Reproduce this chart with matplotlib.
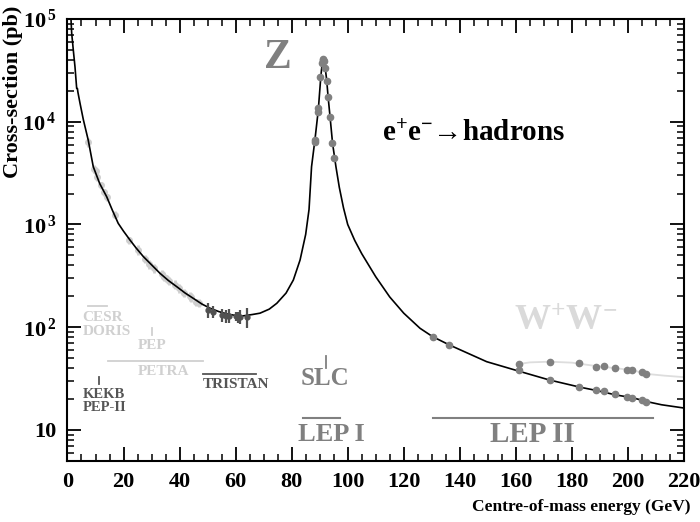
import numpy as np
import matplotlib
matplotlib.use('Agg')
import matplotlib.pyplot as plt
from matplotlib.ticker import MultipleLocator, LogLocator, FixedLocator, NullFormatter

plt.rcParams['font.family'] = ['Liberation Serif', 'DejaVu Serif']
plt.rcParams['font.weight'] = 'bold'
plt.rcParams['mathtext.fontset'] = 'custom'
plt.rcParams['mathtext.rm'] = 'Liberation Serif:bold'
plt.rcParams['mathtext.it'] = 'Liberation Serif:italic:bold'
plt.rcParams['mathtext.bf'] = 'Liberation Serif:bold'

# theory curve e+e- -> hadrons
curve_x = [1.0, 1.25, 1.5, 2.07, 2.68, 3.28, 3.55, 3.7, 4.5, 5.65, 7.4, 9.2, 11.5, 14.0, 16.0,
           18.1, 20.0, 22.3, 24.5, 27.1, 30.0, 33.0, 36.0, 39.0, 42.0, 44.9, 48.0, 50.9, 54.0,
           56.8, 60.0, 62.7, 66.0, 68.7, 72.0, 74.7, 78.0, 80.6, 83.0, 85.0, 86.2, 87.1, 88.3,
           89.5, 90.4, 90.9, 91.2, 91.5, 92.0, 92.5, 93.0, 93.7, 94.6, 95.8, 97.0, 98.5, 100.0,
           102.5, 105.0, 110.0, 115.0, 120.0, 125.8, 130.3, 136.3, 149.6, 160.9, 171.9, 182.9,
           188.9, 195.8, 201.7, 206.7, 212.0, 220.4]
curve_y = [150000, 100000, 72800, 50000, 34200, 21100, 21000, 19500, 15000, 10500, 6630, 3650, 2500,
           1860, 1380, 1026, 860, 706, 590, 486, 405, 335, 285, 248, 215, 191, 168, 153, 142,
           135, 130, 129, 133, 137, 150, 171, 215, 288, 451, 800, 1400, 3650, 6640, 12970,
           27400, 37000, 41500, 39500, 33000, 25400, 17500, 11170, 6150, 3650, 2300, 1450, 1000,
           700, 520, 310, 197, 137, 97.7, 81, 67.2, 46.2, 37.5, 30.7, 26.1, 24.2, 21.9, 20.6,
           18.9, 17.6, 16.3]

# W+W- curve
ww_x = [161.2, 165.0, 172.2, 180.0, 188.9, 195.8, 201.7, 206.9, 213.0, 220.4]
ww_y = [43.9, 45.5, 46.2, 45.2, 41.8, 39.9, 38.1, 35.1, 33.8, 32.6]

# low energy data (CESR, DORIS, PEP, PETRA)
low_x = [7.4, 9.4, 10.0, 10.5, 12.0, 13.0, 14.0, 17.0, 22.0, 25.0, 27.6, 29.0, 30.8, 33.8,
         34.5, 35.0, 36.4, 38.3, 39.8, 41.5, 43.6, 44.2, 46.0, 46.8]
low_y = [6300, 3500, 3300, 2900, 2400, 2050, 1850, 1250, 700, 570, 460, 410, 375, 330,
         310, 300, 280, 260, 240, 215, 200, 195, 175, 172]
low_e = [600, 300, 250, 250, 200, 150, 150, 100, 60, 60, 40, 40, 35, 30,
         30, 25, 25, 25, 25, 20, 20, 20, 15, 15]

# TRISTAN data
tri_x = [50.0, 52.0, 55.0, 56.5, 57.5, 60.0, 60.8, 61.4, 64.0]
tri_y = [148, 142, 132, 128, 130, 128, 125, 127, 127]
tri_e = [25, 20, 20, 18, 20, 12, 15, 20, 28]

# LEP I / SLC data at the Z
z_x = [88.2, 88.4, 89.4, 89.5, 90.2, 91.0, 91.2, 91.3, 91.5, 92.0, 92.5, 92.8, 93.7, 94.3, 95.0]
z_y = [6600, 6400, 12500, 13500, 27000, 37000, 41000, 40000, 39000, 33000, 25000, 17500, 11000, 6200, 4400]

# LEP II data
lep2_x = [130.3, 136.3, 161.3, 172.1, 182.7, 188.6, 191.6, 195.5, 199.5, 201.6, 204.9, 206.6]
lep2_y = [81, 67.2, 38, 30.7, 26.1, 24.4, 23.8, 22.2, 21.0, 20.7, 19.6, 18.9]
ww_dx = [161.3, 172.1, 182.7, 188.6, 191.6, 195.5, 199.5, 201.6, 204.9, 206.6]
ww_dy = [43.5, 46.2, 44.8, 41.3, 41.6, 40.0, 38.5, 38.3, 36.5, 35.1]

fig = plt.figure(figsize=(7, 5.22), dpi=100)
ax = fig.add_axes([0.0964, 0.117, 0.8807, 0.8467])

ax.plot(ww_x, ww_y, color='#dddddd', lw=1.3, zorder=2)
ax.plot(curve_x, curve_y, color='black', lw=1.2, zorder=3)

ax.errorbar(low_x, low_y, yerr=low_e, fmt='o', ms=4, color='#cfcfcf', elinewidth=2, capsize=0, zorder=2)
ax.errorbar(tri_x, tri_y, yerr=tri_e, fmt='o', ms=3.5, color='#505050', elinewidth=1.6, capsize=0, zorder=4)
ax.plot(z_x, z_y, 'o', ms=4.5, color='#808080', zorder=4)
ax.plot(lep2_x, lep2_y, 'o', ms=4.5, color='#808080', zorder=4)
ax.plot(ww_dx, ww_dy, 'o', ms=4.5, color='#808080', zorder=4)

ax.set_yscale('log')
ax.set_xlim(0, 220)
ax.set_ylim(5, 1e5)

ax.xaxis.set_major_locator(MultipleLocator(20))
ax.xaxis.set_minor_locator(MultipleLocator(5))
ax.yaxis.set_major_locator(FixedLocator([10, 100, 1000, 1e4, 1e5]))
ax.yaxis.set_minor_locator(LogLocator(base=10, subs=np.arange(2, 10)))
ax.yaxis.set_minor_formatter(NullFormatter())
ax.set_yticklabels(['10', '10$^{\\,2}$', '10$^{\\,3}$', '10$^{\\,4}$', '10$^{\\,5}$'])
ax.tick_params(which='major', direction='in', length=10, width=1.3, top=True, right=True,
               labelsize=16, pad=8)
ax.tick_params(which='minor', direction='in', length=5, width=1.1, top=True, right=True)
for s in ax.spines.values():
    s.set_linewidth(1.5)

fig.text(690 / 700, 1 - 507 / 522, 'Centre-of-mass energy (GeV)', ha='right', va='center', fontsize=12.5)
fig.text(13 / 700, 1 - 6 / 522, 'Cross-section (pb)', rotation=90, ha='center', va='top', fontsize=16)

# accelerator labels
light = '#d0d0d0'
dark = '#555555'
mid = '#808080'
ax.plot([7.4, 14.2], [162, 162], color=light, lw=1.3)
ax.text(5.4, 123, 'CESR', color=light, fontsize=11, va='center', ha='left')
ax.text(5.4, 90, 'DORIS', color=light, fontsize=11, va='center', ha='left')
ax.plot([30.2, 30.2], [84, 98], color=light, lw=1.3)
ax.text(25.2, 66.5, 'PEP', color=light, fontsize=11, va='center', ha='left')
ax.plot([14.3, 48.3], [47.3, 47.3], color=light, lw=1.3)
ax.text(25.2, 37.1, 'PETRA', color=light, fontsize=11, va='center', ha='left')
ax.plot([48.3, 67.3], [34.9, 34.9], color=dark, lw=1.3)
ax.text(48.4, 27.7, 'TRISTAN', color=dark, fontsize=11, va='center', ha='left')
ax.plot([11.2, 11.2], [28, 33], color=dark, lw=1.3)
ax.text(5.4, 22.0, 'KEKB', color=dark, fontsize=10.5, va='center', ha='left')
ax.text(5.4, 16.6, 'PEP-II', color=dark, fontsize=10.5, va='center', ha='left')
ax.plot([92.1, 92.1], [40.2, 52.5], color=mid, lw=1.3)
ax.text(91.9, 31.4, 'SLC', color=mid, fontsize=18, va='center', ha='center')
ax.plot([84.2, 97.3], [13.0, 13.0], color=mid, lw=1.5)
ax.text(94.0, 8.95, 'LEP I', color=mid, fontsize=19, va='center', ha='center')
ax.plot([130.3, 208.8], [13.1, 13.1], color=mid, lw=1.5)
ax.text(166.1, 8.95, 'LEP II', color=mid, fontsize=21, va='center', ha='center')

ax.text(75.1, 41600, 'Z', color=mid, fontsize=30, va='center', ha='center')
ax.text(177.8, 112, 'W$^{+}$W$^{-}$', color='#dadada', fontsize=26, va='center', ha='center')
ax.text(145.1, 7760, 'e$^{+}$e$^{-}$\u2192hadrons', color='black', fontsize=21, va='center', ha='center')

fig.savefig('out.png', dpi=100)
